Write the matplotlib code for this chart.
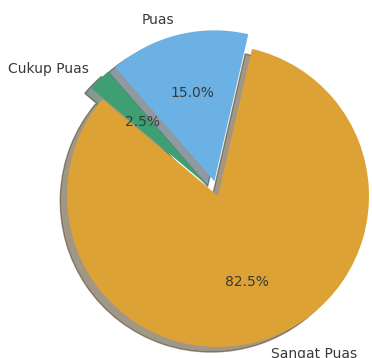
import matplotlib.pyplot as plt

labels = ['Sangat Puas', 'Puas', 'Cukup Puas']
sizes = [82.5, 15.0, 2.5]
colors = ['#DDA236', '#6BB1E3', '#3E9F72']
explode = (0, 0.1, 0.1)

fig = plt.figure(figsize=(3.72, 3.58), dpi=100)
ax = fig.add_axes([0, 0, 1, 1])

ax.pie(sizes, labels=labels, colors=colors, explode=explode,
       autopct='%1.1f%%', startangle=140,
       shadow={'ox': -0.032, 'oy': -0.024},
       textprops={'fontsize': 10, 'color': '#3a3a3a'})

# crop like the original: pie centre at (218, 196) px, radius 151 px
cx, cy, r = 218.0, 196.0, 151.0
ax.set_xlim(-cx / r, (372 - cx) / r)
ax.set_ylim(-(358 - cy) / r, cy / r)
ax.set_aspect('auto')

fig.savefig('out.png', dpi=100)
